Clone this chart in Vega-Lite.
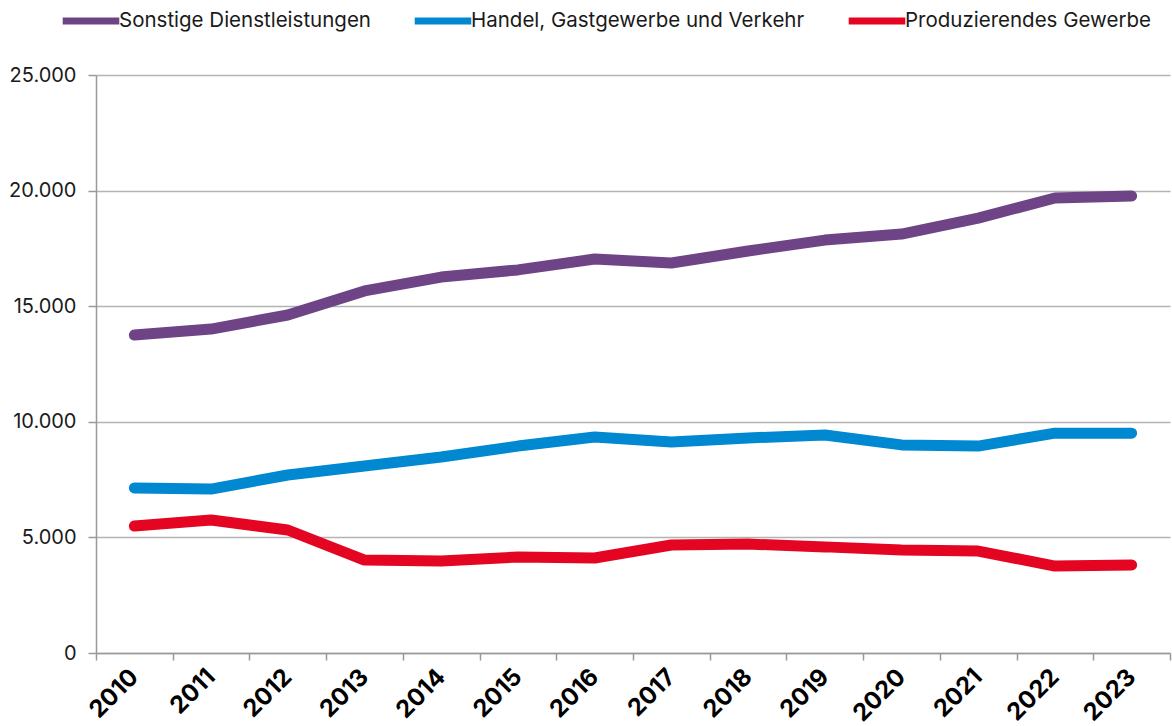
{
  "$schema": "https://vega.github.io/schema/vega-lite/v6.json",
  "autosize": {"type": "none"},
  "padding": {"left": 96, "top": 75, "right": 2, "bottom": 73},
  "width": 1074,
  "height": 578,
  "background": "white",
  "config": {
    "font": "Inter",
    "view": {"stroke": null},
    "locale": {"number": {"decimal": ",", "thousands": ".", "grouping": [3], "currency": ["", " €"]}}
  },
  "data": {
    "values": [
      {"Jahr": "2010", "Bereich": "Sonstige Dienstleistungen", "Wert": 13750},
      {"Jahr": "2011", "Bereich": "Sonstige Dienstleistungen", "Wert": 14010},
      {"Jahr": "2012", "Bereich": "Sonstige Dienstleistungen", "Wert": 14620},
      {"Jahr": "2013", "Bereich": "Sonstige Dienstleistungen", "Wert": 15660},
      {"Jahr": "2014", "Bereich": "Sonstige Dienstleistungen", "Wert": 16260},
      {"Jahr": "2015", "Bereich": "Sonstige Dienstleistungen", "Wert": 16570},
      {"Jahr": "2016", "Bereich": "Sonstige Dienstleistungen", "Wert": 17040},
      {"Jahr": "2017", "Bereich": "Sonstige Dienstleistungen", "Wert": 16870},
      {"Jahr": "2018", "Bereich": "Sonstige Dienstleistungen", "Wert": 17390},
      {"Jahr": "2019", "Bereich": "Sonstige Dienstleistungen", "Wert": 17860},
      {"Jahr": "2020", "Bereich": "Sonstige Dienstleistungen", "Wert": 18120},
      {"Jahr": "2021", "Bereich": "Sonstige Dienstleistungen", "Wert": 18810},
      {"Jahr": "2022", "Bereich": "Sonstige Dienstleistungen", "Wert": 19680},
      {"Jahr": "2023", "Bereich": "Sonstige Dienstleistungen", "Wert": 19770},
      {"Jahr": "2010", "Bereich": "Handel, Gastgewerbe und Verkehr", "Wert": 7140},
      {"Jahr": "2011", "Bereich": "Handel, Gastgewerbe und Verkehr", "Wert": 7090},
      {"Jahr": "2012", "Bereich": "Handel, Gastgewerbe und Verkehr", "Wert": 7700},
      {"Jahr": "2013", "Bereich": "Handel, Gastgewerbe und Verkehr", "Wert": 8090},
      {"Jahr": "2014", "Bereich": "Handel, Gastgewerbe und Verkehr", "Wert": 8480},
      {"Jahr": "2015", "Bereich": "Handel, Gastgewerbe und Verkehr", "Wert": 8950},
      {"Jahr": "2016", "Bereich": "Handel, Gastgewerbe und Verkehr", "Wert": 9340},
      {"Jahr": "2017", "Bereich": "Handel, Gastgewerbe und Verkehr", "Wert": 9130},
      {"Jahr": "2018", "Bereich": "Handel, Gastgewerbe und Verkehr", "Wert": 9300},
      {"Jahr": "2019", "Bereich": "Handel, Gastgewerbe und Verkehr", "Wert": 9430},
      {"Jahr": "2020", "Bereich": "Handel, Gastgewerbe und Verkehr", "Wert": 9000},
      {"Jahr": "2021", "Bereich": "Handel, Gastgewerbe und Verkehr", "Wert": 8950},
      {"Jahr": "2022", "Bereich": "Handel, Gastgewerbe und Verkehr", "Wert": 9510},
      {"Jahr": "2023", "Bereich": "Handel, Gastgewerbe und Verkehr", "Wert": 9510},
      {"Jahr": "2010", "Bereich": "Produzierendes Gewerbe", "Wert": 5490},
      {"Jahr": "2011", "Bereich": "Produzierendes Gewerbe", "Wert": 5750},
      {"Jahr": "2012", "Bereich": "Produzierendes Gewerbe", "Wert": 5320},
      {"Jahr": "2013", "Bereich": "Produzierendes Gewerbe", "Wert": 4020},
      {"Jahr": "2014", "Bereich": "Produzierendes Gewerbe", "Wert": 3980},
      {"Jahr": "2015", "Bereich": "Produzierendes Gewerbe", "Wert": 4150},
      {"Jahr": "2016", "Bereich": "Produzierendes Gewerbe", "Wert": 4110},
      {"Jahr": "2017", "Bereich": "Produzierendes Gewerbe", "Wert": 4670},
      {"Jahr": "2018", "Bereich": "Produzierendes Gewerbe", "Wert": 4710},
      {"Jahr": "2019", "Bereich": "Produzierendes Gewerbe", "Wert": 4590},
      {"Jahr": "2020", "Bereich": "Produzierendes Gewerbe", "Wert": 4460},
      {"Jahr": "2021", "Bereich": "Produzierendes Gewerbe", "Wert": 4410},
      {"Jahr": "2022", "Bereich": "Produzierendes Gewerbe", "Wert": 3760},
      {"Jahr": "2023", "Bereich": "Produzierendes Gewerbe", "Wert": 3810}
    ]
  },
  "mark": {"type": "line", "strokeWidth": 11, "strokeCap": "round", "strokeJoin": "bevel"},
  "encoding": {
    "x": {
      "field": "Jahr", "type": "ordinal",
      "scale": {"paddingInner": 0, "paddingOuter": 0},
      "axis": {
        "title": null, "labelAngle": -45, "labelAlign": "right", "labelBaseline": "middle",
        "labelFont": "Inter", "labelFontSize": 24, "labelFontWeight": "bold", "labelColor": "#000000",
        "labelPadding": 13, "tickBand": "extent", "tickSize": 7, "tickColor": "#999999", "tickWidth": 1.5,
        "domainColor": "#999999", "domainWidth": 1.5, "grid": false
      }
    },
    "y": {
      "field": "Wert", "type": "quantitative",
      "scale": {"domain": [0, 25000], "nice": false},
      "axis": {
        "title": null, "values": [0, 5000, 10000, 15000, 20000, 25000], "format": ",d",
        "labelFont": "Inter", "labelFontSize": 20, "labelColor": "#1a1a1a", "labelPadding": 12,
        "tickSize": 8, "tickColor": "#999999", "tickWidth": 1.5,
        "domainColor": "#999999", "domainWidth": 1.5,
        "grid": true, "gridColor": "#b3b3b3", "gridWidth": 1.5
      }
    },
    "color": {
      "field": "Bereich", "type": "nominal",
      "scale": {
        "domain": ["Sonstige Dienstleistungen", "Handel, Gastgewerbe und Verkehr", "Produzierendes Gewerbe"],
        "range": ["#6E4486", "#0089D1", "#E30522"]
      },
      "legend": {
        "title": null, "orient": "none", "direction": "horizontal",
        "legendX": -37, "legendY": -86,
        "symbolType": "stroke", "symbolSize": 3200, "symbolStrokeWidth": 7,
        "labelFont": "Inter", "labelFontSize": 20.5, "labelColor": "#1a1a1a", "labelLimit": 500,
        "labelOffset": -4, "columnPadding": 29
      }
    }
  }
}
